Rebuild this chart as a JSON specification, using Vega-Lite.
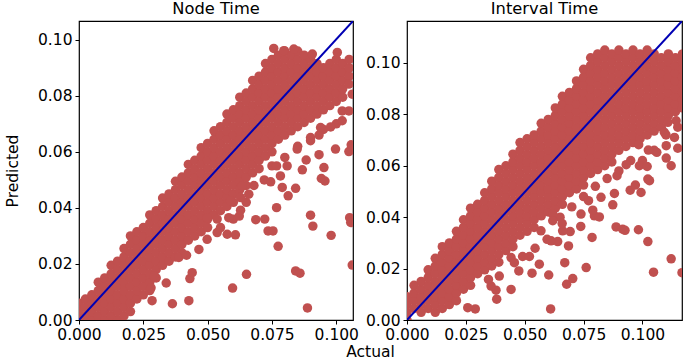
{"$schema":"https://vega.github.io/schema/vega-lite/v6.json","background":"white","padding":{"left":4,"top":0,"right":3,"bottom":0},"bounds":"flush","spacing":54,"config":{"font":"DejaVu Sans","view":{"stroke":"#000","strokeWidth":1.2},"axis":{"grid":false,"domain":false,"ticks":true,"tickColor":"#000","tickSize":4,"tickWidth":1,"labelColor":"#000","titleColor":"#000","labelFontSize":15.5,"titleFontSize":15.5,"titleFontWeight":"normal","labelBound":false,"labelFlush":false,"labelOverlap":false,"labelPadding":3},"title":{"fontSize":16.3,"fontWeight":"normal","color":"#000","offset":4}},"hconcat":[{"width":274,"height":299,"title":"Node Time","layer":[{"data":{"values":[
{"a":0,"p":0},{"a":0,"p":0.003},{"a":0,"p":0.006},
{"a":0.0025,"p":0.0015},{"a":0.0025,"p":0.0045},{"a":0.0025,"p":0.0075},
{"a":0.005,"p":0},{"a":0.005,"p":0.003},{"a":0.005,"p":0.006},{"a":0.005,"p":0.009},
{"a":0.0075,"p":0.0015},{"a":0.0075,"p":0.0045},{"a":0.0075,"p":0.0075},{"a":0.0075,"p":0.0105},{"a":0.0075,"p":0.0135},
{"a":0.01,"p":0},{"a":0.01,"p":0.003},{"a":0.01,"p":0.006},{"a":0.01,"p":0.009},{"a":0.01,"p":0.012},{"a":0.01,"p":0.015},
{"a":0.0125,"p":0.0015},{"a":0.0125,"p":0.0045},{"a":0.0125,"p":0.0075},{"a":0.0125,"p":0.0105},{"a":0.0125,"p":0.0135},{"a":0.0125,"p":0.0165},{"a":0.0125,"p":0.0195},
{"a":0.015,"p":0},{"a":0.015,"p":0.003},{"a":0.015,"p":0.006},{"a":0.015,"p":0.009},{"a":0.015,"p":0.012},{"a":0.015,"p":0.015},{"a":0.015,"p":0.018},{"a":0.015,"p":0.021},
{"a":0.0175,"p":0.0015},{"a":0.0175,"p":0.0045},{"a":0.0175,"p":0.0075},{"a":0.0175,"p":0.0105},{"a":0.0175,"p":0.0135},{"a":0.0175,"p":0.0165},{"a":0.0175,"p":0.0195},{"a":0.0175,"p":0.0225},{"a":0.0175,"p":0.0255},
{"a":0.02,"p":0.003},{"a":0.02,"p":0.006},{"a":0.02,"p":0.009},{"a":0.02,"p":0.012},{"a":0.02,"p":0.015},{"a":0.02,"p":0.018},{"a":0.02,"p":0.021},{"a":0.02,"p":0.024},{"a":0.02,"p":0.027},{"a":0.02,"p":0.03},
{"a":0.0225,"p":0.0075},{"a":0.0225,"p":0.0105},{"a":0.0225,"p":0.0135},{"a":0.0225,"p":0.0165},{"a":0.0225,"p":0.0195},{"a":0.0225,"p":0.0225},{"a":0.0225,"p":0.0255},{"a":0.0225,"p":0.0285},{"a":0.0225,"p":0.0315},
{"a":0.025,"p":0.009},{"a":0.025,"p":0.012},{"a":0.025,"p":0.015},{"a":0.025,"p":0.018},{"a":0.025,"p":0.021},{"a":0.025,"p":0.024},{"a":0.025,"p":0.027},{"a":0.025,"p":0.03},{"a":0.025,"p":0.033},
{"a":0.0275,"p":0.0105},{"a":0.0275,"p":0.0135},{"a":0.0275,"p":0.0165},{"a":0.0275,"p":0.0195},{"a":0.0275,"p":0.0225},{"a":0.0275,"p":0.0255},{"a":0.0275,"p":0.0285},{"a":0.0275,"p":0.0315},{"a":0.0275,"p":0.0345},{"a":0.0275,"p":0.0375},
{"a":0.03,"p":0.015},{"a":0.03,"p":0.018},{"a":0.03,"p":0.021},{"a":0.03,"p":0.024},{"a":0.03,"p":0.027},{"a":0.03,"p":0.03},{"a":0.03,"p":0.033},{"a":0.03,"p":0.036},{"a":0.03,"p":0.039},
{"a":0.0325,"p":0.0195},{"a":0.0325,"p":0.0225},{"a":0.0325,"p":0.0255},{"a":0.0325,"p":0.0285},{"a":0.0325,"p":0.0315},{"a":0.0325,"p":0.0345},{"a":0.0325,"p":0.0375},{"a":0.0325,"p":0.0405},{"a":0.0325,"p":0.0435},
{"a":0.035,"p":0.021},{"a":0.035,"p":0.024},{"a":0.035,"p":0.027},{"a":0.035,"p":0.03},{"a":0.035,"p":0.033},{"a":0.035,"p":0.036},{"a":0.035,"p":0.039},{"a":0.035,"p":0.042},{"a":0.035,"p":0.045},
{"a":0.0375,"p":0.0225},{"a":0.0375,"p":0.0255},{"a":0.0375,"p":0.0285},{"a":0.0375,"p":0.0315},{"a":0.0375,"p":0.0345},{"a":0.0375,"p":0.0375},{"a":0.0375,"p":0.0405},{"a":0.0375,"p":0.0435},{"a":0.0375,"p":0.0465},{"a":0.0375,"p":0.0495},
{"a":0.04,"p":0.024},{"a":0.04,"p":0.027},{"a":0.04,"p":0.03},{"a":0.04,"p":0.033},{"a":0.04,"p":0.036},{"a":0.04,"p":0.039},{"a":0.04,"p":0.042},{"a":0.04,"p":0.045},{"a":0.04,"p":0.048},{"a":0.04,"p":0.051},
{"a":0.0425,"p":0.0285},{"a":0.0425,"p":0.0315},{"a":0.0425,"p":0.0345},{"a":0.0425,"p":0.0375},{"a":0.0425,"p":0.0405},{"a":0.0425,"p":0.0435},{"a":0.0425,"p":0.0465},{"a":0.0425,"p":0.0495},{"a":0.0425,"p":0.0525},{"a":0.0425,"p":0.0555},
{"a":0.045,"p":0.03},{"a":0.045,"p":0.033},{"a":0.045,"p":0.036},{"a":0.045,"p":0.039},{"a":0.045,"p":0.042},{"a":0.045,"p":0.045},{"a":0.045,"p":0.048},{"a":0.045,"p":0.051},{"a":0.045,"p":0.054},{"a":0.045,"p":0.057},
{"a":0.0475,"p":0.0315},{"a":0.0475,"p":0.0345},{"a":0.0475,"p":0.0375},{"a":0.0475,"p":0.0405},{"a":0.0475,"p":0.0435},{"a":0.0475,"p":0.0465},{"a":0.0475,"p":0.0495},{"a":0.0475,"p":0.0525},{"a":0.0475,"p":0.0555},{"a":0.0475,"p":0.0585},{"a":0.0475,"p":0.0615},
{"a":0.05,"p":0.033},{"a":0.05,"p":0.036},{"a":0.05,"p":0.039},{"a":0.05,"p":0.042},{"a":0.05,"p":0.045},{"a":0.05,"p":0.048},{"a":0.05,"p":0.051},{"a":0.05,"p":0.054},{"a":0.05,"p":0.057},{"a":0.05,"p":0.06},{"a":0.05,"p":0.063},
{"a":0.0525,"p":0.0375},{"a":0.0525,"p":0.0405},{"a":0.0525,"p":0.0435},{"a":0.0525,"p":0.0465},{"a":0.0525,"p":0.0495},{"a":0.0525,"p":0.0525},{"a":0.0525,"p":0.0555},{"a":0.0525,"p":0.0585},{"a":0.0525,"p":0.0615},{"a":0.0525,"p":0.0645},{"a":0.0525,"p":0.0675},
{"a":0.055,"p":0.039},{"a":0.055,"p":0.042},{"a":0.055,"p":0.045},{"a":0.055,"p":0.048},{"a":0.055,"p":0.051},{"a":0.055,"p":0.054},{"a":0.055,"p":0.057},{"a":0.055,"p":0.06},{"a":0.055,"p":0.063},{"a":0.055,"p":0.066},{"a":0.055,"p":0.069},
{"a":0.0575,"p":0.0405},{"a":0.0575,"p":0.0435},{"a":0.0575,"p":0.0465},{"a":0.0575,"p":0.0495},{"a":0.0575,"p":0.0525},{"a":0.0575,"p":0.0555},{"a":0.0575,"p":0.0585},{"a":0.0575,"p":0.0615},{"a":0.0575,"p":0.0645},{"a":0.0575,"p":0.0675},{"a":0.0575,"p":0.0705},{"a":0.0575,"p":0.0735},
{"a":0.06,"p":0.042},{"a":0.06,"p":0.045},{"a":0.06,"p":0.048},{"a":0.06,"p":0.051},{"a":0.06,"p":0.054},{"a":0.06,"p":0.057},{"a":0.06,"p":0.06},{"a":0.06,"p":0.063},{"a":0.06,"p":0.066},{"a":0.06,"p":0.069},{"a":0.06,"p":0.072},{"a":0.06,"p":0.075},
{"a":0.0625,"p":0.0465},{"a":0.0625,"p":0.0495},{"a":0.0625,"p":0.0525},{"a":0.0625,"p":0.0555},{"a":0.0625,"p":0.0585},{"a":0.0625,"p":0.0615},{"a":0.0625,"p":0.0645},{"a":0.0625,"p":0.0675},{"a":0.0625,"p":0.0705},{"a":0.0625,"p":0.0735},{"a":0.0625,"p":0.0765},{"a":0.0625,"p":0.0795},
{"a":0.065,"p":0.048},{"a":0.065,"p":0.051},{"a":0.065,"p":0.054},{"a":0.065,"p":0.057},{"a":0.065,"p":0.06},{"a":0.065,"p":0.063},{"a":0.065,"p":0.066},{"a":0.065,"p":0.069},{"a":0.065,"p":0.072},{"a":0.065,"p":0.075},{"a":0.065,"p":0.078},{"a":0.065,"p":0.081},
{"a":0.0675,"p":0.0525},{"a":0.0675,"p":0.0555},{"a":0.0675,"p":0.0585},{"a":0.0675,"p":0.0615},{"a":0.0675,"p":0.0645},{"a":0.0675,"p":0.0675},{"a":0.0675,"p":0.0705},{"a":0.0675,"p":0.0735},{"a":0.0675,"p":0.0765},{"a":0.0675,"p":0.0795},{"a":0.0675,"p":0.0825},{"a":0.0675,"p":0.0855},
{"a":0.07,"p":0.054},{"a":0.07,"p":0.057},{"a":0.07,"p":0.06},{"a":0.07,"p":0.063},{"a":0.07,"p":0.066},{"a":0.07,"p":0.069},{"a":0.07,"p":0.072},{"a":0.07,"p":0.075},{"a":0.07,"p":0.078},{"a":0.07,"p":0.081},{"a":0.07,"p":0.084},{"a":0.07,"p":0.087},
{"a":0.0725,"p":0.0585},{"a":0.0725,"p":0.0615},{"a":0.0725,"p":0.0645},{"a":0.0725,"p":0.0675},{"a":0.0725,"p":0.0705},{"a":0.0725,"p":0.0735},{"a":0.0725,"p":0.0765},{"a":0.0725,"p":0.0795},{"a":0.0725,"p":0.0825},{"a":0.0725,"p":0.0855},{"a":0.0725,"p":0.0885},{"a":0.0725,"p":0.0915},
{"a":0.075,"p":0.06},{"a":0.075,"p":0.063},{"a":0.075,"p":0.066},{"a":0.075,"p":0.069},{"a":0.075,"p":0.072},{"a":0.075,"p":0.075},{"a":0.075,"p":0.078},{"a":0.075,"p":0.081},{"a":0.075,"p":0.084},{"a":0.075,"p":0.087},{"a":0.075,"p":0.09},{"a":0.075,"p":0.093},
{"a":0.0775,"p":0.0645},{"a":0.0775,"p":0.0675},{"a":0.0775,"p":0.0705},{"a":0.0775,"p":0.0735},{"a":0.0775,"p":0.0765},{"a":0.0775,"p":0.0795},{"a":0.0775,"p":0.0825},{"a":0.0775,"p":0.0855},{"a":0.0775,"p":0.0885},{"a":0.0775,"p":0.0915},{"a":0.0775,"p":0.0945},
{"a":0.08,"p":0.066},{"a":0.08,"p":0.069},{"a":0.08,"p":0.072},{"a":0.08,"p":0.075},{"a":0.08,"p":0.078},{"a":0.08,"p":0.081},{"a":0.08,"p":0.084},{"a":0.08,"p":0.087},{"a":0.08,"p":0.09},{"a":0.08,"p":0.093},{"a":0.08,"p":0.096},
{"a":0.0825,"p":0.0675},{"a":0.0825,"p":0.0705},{"a":0.0825,"p":0.0735},{"a":0.0825,"p":0.0765},{"a":0.0825,"p":0.0795},{"a":0.0825,"p":0.0825},{"a":0.0825,"p":0.0855},{"a":0.0825,"p":0.0885},{"a":0.0825,"p":0.0915},{"a":0.0825,"p":0.0945},
{"a":0.085,"p":0.069},{"a":0.085,"p":0.072},{"a":0.085,"p":0.075},{"a":0.085,"p":0.078},{"a":0.085,"p":0.081},{"a":0.085,"p":0.084},{"a":0.085,"p":0.087},{"a":0.085,"p":0.09},{"a":0.085,"p":0.093},{"a":0.085,"p":0.096},
{"a":0.0875,"p":0.0705},{"a":0.0875,"p":0.0735},{"a":0.0875,"p":0.0765},{"a":0.0875,"p":0.0795},{"a":0.0875,"p":0.0825},{"a":0.0875,"p":0.0855},{"a":0.0875,"p":0.0885},{"a":0.0875,"p":0.0915},{"a":0.0875,"p":0.0945},
{"a":0.09,"p":0.072},{"a":0.09,"p":0.075},{"a":0.09,"p":0.078},{"a":0.09,"p":0.081},{"a":0.09,"p":0.084},{"a":0.09,"p":0.087},{"a":0.09,"p":0.09},{"a":0.09,"p":0.093},
{"a":0.0925,"p":0.0735},{"a":0.0925,"p":0.0765},{"a":0.0925,"p":0.0795},{"a":0.0925,"p":0.0825},{"a":0.0925,"p":0.0855},{"a":0.0925,"p":0.0885},{"a":0.0925,"p":0.0915},
{"a":0.095,"p":0.075},{"a":0.095,"p":0.078},{"a":0.095,"p":0.081},{"a":0.095,"p":0.084},{"a":0.095,"p":0.087},{"a":0.095,"p":0.09},
{"a":0.0975,"p":0.0765},{"a":0.0975,"p":0.0795},{"a":0.0975,"p":0.0825},{"a":0.0975,"p":0.0855},{"a":0.0975,"p":0.0885},{"a":0.0975,"p":0.0915},
{"a":0.1,"p":0.078},{"a":0.1,"p":0.081},{"a":0.1,"p":0.084},{"a":0.1,"p":0.087},{"a":0.1,"p":0.09},{"a":0.1,"p":0.093},
{"a":0.1025,"p":0.0795},{"a":0.1025,"p":0.0825},{"a":0.1025,"p":0.0855},{"a":0.1025,"p":0.0885},{"a":0.1025,"p":0.0915},
{"a":0.105,"p":0.087},{"a":0.105,"p":0.09},{"a":0.105,"p":0.093},
{"a":0.068,"p":0.048},{"a":0.072,"p":0.05},{"a":0.08,"p":0.058},{"a":0.085,"p":0.062},{"a":0.09,"p":0.064},{"a":0.095,"p":0.068},{"a":0.1,"p":0.07},{"a":0.075,"p":0.055},{"a":0.055,"p":0.033},{"a":0.06,"p":0.036},{"a":0.065,"p":0.042},
{"a":0.1062,"p":0.0196},{"a":0.0888,"p":0.0043},{"a":0.0842,"p":0.0175},{"a":0.0859,"p":0.0167},{"a":0.0651,"p":0.0163},{"a":0.0597,"p":0.0114},{"a":0.0427,"p":0.0069},{"a":0.0363,"p":0.0058},{"a":0.0284,"p":0.0069},{"a":0.028,"p":0.0115},{"a":0.0339,"p":0.0132},{"a":0.0431,"p":0.0148},{"a":0.044,"p":0.0169},{"a":0.0774,"p":0.0263},{"a":0.098,"p":0.0302},{"a":0.0909,"p":0.0335},{"a":0.09,"p":0.0374},{"a":0.1052,"p":0.0365},{"a":0.1056,"p":0.0348},{"a":0.0768,"p":0.0401},{"a":0.0687,"p":0.0358},{"a":0.0722,"p":0.036},{"a":0.0735,"p":0.0318},{"a":0.0754,"p":0.0318},{"a":0.0608,"p":0.0304},{"a":0.0576,"p":0.0306},{"a":0.0537,"p":0.0312},{"a":0.0623,"p":0.0371},{"a":0.0628,"p":0.0392},{"a":0.0582,"p":0.0365},{"a":0.0466,"p":0.0252},{"a":0.0388,"p":0.0223},{"a":0.0418,"p":0.0231},{"a":0.079,"p":0.0473},{"a":0.0842,"p":0.047},{"a":0.0813,"p":0.0443},{"a":0.0745,"p":0.0493},{"a":0.0783,"p":0.0514},{"a":0.0768,"p":0.055},{"a":0.0809,"p":0.055},{"a":0.0868,"p":0.0536},{"a":0.0883,"p":0.0571},{"a":0.0933,"p":0.059},{"a":0.0952,"p":0.0544},{"a":0.0942,"p":0.0505},{"a":0.0956,"p":0.0496},{"a":0.0848,"p":0.061},{"a":0.0997,"p":0.061},{"a":0.1049,"p":0.0601},{"a":0.1058,"p":0.0625},{"a":0.1023,"p":0.0711},{"a":0.0933,"p":0.066},{"a":0.09,"p":0.0651},{"a":0.0978,"p":0.0689},{"a":0.0939,"p":0.0687},{"a":0.1023,"p":0.0746},{"a":0.1049,"p":0.0746},{"a":0.1062,"p":0.0806},{"a":0.1049,"p":0.0842},{"a":0.1004,"p":0.0955},{"a":0.0907,"p":0.0949},{"a":0.0757,"p":0.0969},{"a":0.0796,"p":0.0961},{"a":0.0835,"p":0.0967},{"a":0.0634,"p":0.0479},{"a":0.066,"p":0.0449},{"a":0.0628,"p":0.0437},{"a":0.0589,"p":0.0425},{"a":0.0537,"p":0.036},{"a":0.0498,"p":0.0365},{"a":0.0498,"p":0.0288},{"a":0.0291,"p":0.0157}
]},"mark":{"type":"point","filled":true,"shape":"circle","size":90,"color":"#c0504f","opacity":1,"clip":true},"encoding":{"x":{"field":"a","type":"quantitative","scale":{"domain":[0,0.1065],"nice":false},"axis":{"title":null,"values":[0,0.025,0.05,0.075,0.1],"format":".3f"}},"y":{"field":"p","type":"quantitative","scale":{"domain":[0,0.1067],"nice":false},"axis":{"title":"Predicted","values":[0,0.02,0.04,0.06,0.08,0.1],"format":".2f","titlePadding":17}}}},
{"data":{"values":[{"a":0,"p":0},{"a":0.1065,"p":0.1067}]},"mark":{"type":"line","color":"#0000b4","strokeWidth":2,"clip":true},"encoding":{"x":{"field":"a","type":"quantitative","scale":{"domain":[0,0.1065],"nice":false}},"y":{"field":"p","type":"quantitative","scale":{"domain":[0,0.1067],"nice":false}}}}]},
{"width":275,"height":299,"title":"Interval Time","layer":[{"data":{"values":[
{"a":0,"p":0},{"a":0,"p":0.003},{"a":0,"p":0.006},{"a":0,"p":0.009},
{"a":0.003,"p":0.0045},{"a":0.003,"p":0.0075},{"a":0.003,"p":0.0105},{"a":0.003,"p":0.0135},
{"a":0.006,"p":0.003},{"a":0.006,"p":0.006},{"a":0.006,"p":0.009},{"a":0.006,"p":0.012},{"a":0.006,"p":0.015},
{"a":0.009,"p":0.0045},{"a":0.009,"p":0.0075},{"a":0.009,"p":0.0105},{"a":0.009,"p":0.0135},{"a":0.009,"p":0.0165},{"a":0.009,"p":0.0195},
{"a":0.012,"p":0.003},{"a":0.012,"p":0.006},{"a":0.012,"p":0.009},{"a":0.012,"p":0.012},{"a":0.012,"p":0.015},{"a":0.012,"p":0.018},{"a":0.012,"p":0.021},{"a":0.012,"p":0.024},
{"a":0.015,"p":0.0045},{"a":0.015,"p":0.0075},{"a":0.015,"p":0.0105},{"a":0.015,"p":0.0135},{"a":0.015,"p":0.0165},{"a":0.015,"p":0.0195},{"a":0.015,"p":0.0225},{"a":0.015,"p":0.0255},{"a":0.015,"p":0.0285},
{"a":0.018,"p":0.006},{"a":0.018,"p":0.009},{"a":0.018,"p":0.012},{"a":0.018,"p":0.015},{"a":0.018,"p":0.018},{"a":0.018,"p":0.021},{"a":0.018,"p":0.024},{"a":0.018,"p":0.027},{"a":0.018,"p":0.03},
{"a":0.021,"p":0.0075},{"a":0.021,"p":0.0105},{"a":0.021,"p":0.0135},{"a":0.021,"p":0.0165},{"a":0.021,"p":0.0195},{"a":0.021,"p":0.0225},{"a":0.021,"p":0.0255},{"a":0.021,"p":0.0285},{"a":0.021,"p":0.0315},{"a":0.021,"p":0.0345},
{"a":0.024,"p":0.012},{"a":0.024,"p":0.015},{"a":0.024,"p":0.018},{"a":0.024,"p":0.021},{"a":0.024,"p":0.024},{"a":0.024,"p":0.027},{"a":0.024,"p":0.03},{"a":0.024,"p":0.033},{"a":0.024,"p":0.036},{"a":0.024,"p":0.039},
{"a":0.027,"p":0.0135},{"a":0.027,"p":0.0165},{"a":0.027,"p":0.0195},{"a":0.027,"p":0.0225},{"a":0.027,"p":0.0255},{"a":0.027,"p":0.0285},{"a":0.027,"p":0.0315},{"a":0.027,"p":0.0345},{"a":0.027,"p":0.0375},{"a":0.027,"p":0.0405},{"a":0.027,"p":0.0435},
{"a":0.03,"p":0.018},{"a":0.03,"p":0.021},{"a":0.03,"p":0.024},{"a":0.03,"p":0.027},{"a":0.03,"p":0.03},{"a":0.03,"p":0.033},{"a":0.03,"p":0.036},{"a":0.03,"p":0.039},{"a":0.03,"p":0.042},{"a":0.03,"p":0.045},
{"a":0.033,"p":0.0195},{"a":0.033,"p":0.0225},{"a":0.033,"p":0.0255},{"a":0.033,"p":0.0285},{"a":0.033,"p":0.0315},{"a":0.033,"p":0.0345},{"a":0.033,"p":0.0375},{"a":0.033,"p":0.0405},{"a":0.033,"p":0.0435},{"a":0.033,"p":0.0465},{"a":0.033,"p":0.0495},
{"a":0.036,"p":0.021},{"a":0.036,"p":0.024},{"a":0.036,"p":0.027},{"a":0.036,"p":0.03},{"a":0.036,"p":0.033},{"a":0.036,"p":0.036},{"a":0.036,"p":0.039},{"a":0.036,"p":0.042},{"a":0.036,"p":0.045},{"a":0.036,"p":0.048},{"a":0.036,"p":0.051},{"a":0.036,"p":0.054},
{"a":0.039,"p":0.0225},{"a":0.039,"p":0.0255},{"a":0.039,"p":0.0285},{"a":0.039,"p":0.0315},{"a":0.039,"p":0.0345},{"a":0.039,"p":0.0375},{"a":0.039,"p":0.0405},{"a":0.039,"p":0.0435},{"a":0.039,"p":0.0465},{"a":0.039,"p":0.0495},{"a":0.039,"p":0.0525},{"a":0.039,"p":0.0555},{"a":0.039,"p":0.0585},
{"a":0.042,"p":0.027},{"a":0.042,"p":0.03},{"a":0.042,"p":0.033},{"a":0.042,"p":0.036},{"a":0.042,"p":0.039},{"a":0.042,"p":0.042},{"a":0.042,"p":0.045},{"a":0.042,"p":0.048},{"a":0.042,"p":0.051},{"a":0.042,"p":0.054},{"a":0.042,"p":0.057},{"a":0.042,"p":0.06},
{"a":0.045,"p":0.0285},{"a":0.045,"p":0.0315},{"a":0.045,"p":0.0345},{"a":0.045,"p":0.0375},{"a":0.045,"p":0.0405},{"a":0.045,"p":0.0435},{"a":0.045,"p":0.0465},{"a":0.045,"p":0.0495},{"a":0.045,"p":0.0525},{"a":0.045,"p":0.0555},{"a":0.045,"p":0.0585},{"a":0.045,"p":0.0615},{"a":0.045,"p":0.0645},
{"a":0.048,"p":0.033},{"a":0.048,"p":0.036},{"a":0.048,"p":0.039},{"a":0.048,"p":0.042},{"a":0.048,"p":0.045},{"a":0.048,"p":0.048},{"a":0.048,"p":0.051},{"a":0.048,"p":0.054},{"a":0.048,"p":0.057},{"a":0.048,"p":0.06},{"a":0.048,"p":0.063},{"a":0.048,"p":0.066},{"a":0.048,"p":0.069},
{"a":0.051,"p":0.0345},{"a":0.051,"p":0.0375},{"a":0.051,"p":0.0405},{"a":0.051,"p":0.0435},{"a":0.051,"p":0.0465},{"a":0.051,"p":0.0495},{"a":0.051,"p":0.0525},{"a":0.051,"p":0.0555},{"a":0.051,"p":0.0585},{"a":0.051,"p":0.0615},{"a":0.051,"p":0.0645},{"a":0.051,"p":0.0675},{"a":0.051,"p":0.0705},
{"a":0.054,"p":0.036},{"a":0.054,"p":0.039},{"a":0.054,"p":0.042},{"a":0.054,"p":0.045},{"a":0.054,"p":0.048},{"a":0.054,"p":0.051},{"a":0.054,"p":0.054},{"a":0.054,"p":0.057},{"a":0.054,"p":0.06},{"a":0.054,"p":0.063},{"a":0.054,"p":0.066},{"a":0.054,"p":0.069},{"a":0.054,"p":0.072},
{"a":0.057,"p":0.0405},{"a":0.057,"p":0.0435},{"a":0.057,"p":0.0465},{"a":0.057,"p":0.0495},{"a":0.057,"p":0.0525},{"a":0.057,"p":0.0555},{"a":0.057,"p":0.0585},{"a":0.057,"p":0.0615},{"a":0.057,"p":0.0645},{"a":0.057,"p":0.0675},{"a":0.057,"p":0.0705},{"a":0.057,"p":0.0735},{"a":0.057,"p":0.0765},
{"a":0.06,"p":0.042},{"a":0.06,"p":0.045},{"a":0.06,"p":0.048},{"a":0.06,"p":0.051},{"a":0.06,"p":0.054},{"a":0.06,"p":0.057},{"a":0.06,"p":0.06},{"a":0.06,"p":0.063},{"a":0.06,"p":0.066},{"a":0.06,"p":0.069},{"a":0.06,"p":0.072},{"a":0.06,"p":0.075},{"a":0.06,"p":0.078},
{"a":0.063,"p":0.0435},{"a":0.063,"p":0.0465},{"a":0.063,"p":0.0495},{"a":0.063,"p":0.0525},{"a":0.063,"p":0.0555},{"a":0.063,"p":0.0585},{"a":0.063,"p":0.0615},{"a":0.063,"p":0.0645},{"a":0.063,"p":0.0675},{"a":0.063,"p":0.0705},{"a":0.063,"p":0.0735},{"a":0.063,"p":0.0765},{"a":0.063,"p":0.0795},{"a":0.063,"p":0.0825},
{"a":0.066,"p":0.045},{"a":0.066,"p":0.048},{"a":0.066,"p":0.051},{"a":0.066,"p":0.054},{"a":0.066,"p":0.057},{"a":0.066,"p":0.06},{"a":0.066,"p":0.063},{"a":0.066,"p":0.066},{"a":0.066,"p":0.069},{"a":0.066,"p":0.072},{"a":0.066,"p":0.075},{"a":0.066,"p":0.078},{"a":0.066,"p":0.081},{"a":0.066,"p":0.084},{"a":0.066,"p":0.087},
{"a":0.069,"p":0.0495},{"a":0.069,"p":0.0525},{"a":0.069,"p":0.0555},{"a":0.069,"p":0.0585},{"a":0.069,"p":0.0615},{"a":0.069,"p":0.0645},{"a":0.069,"p":0.0675},{"a":0.069,"p":0.0705},{"a":0.069,"p":0.0735},{"a":0.069,"p":0.0765},{"a":0.069,"p":0.0795},{"a":0.069,"p":0.0825},{"a":0.069,"p":0.0855},{"a":0.069,"p":0.0885},
{"a":0.072,"p":0.051},{"a":0.072,"p":0.054},{"a":0.072,"p":0.057},{"a":0.072,"p":0.06},{"a":0.072,"p":0.063},{"a":0.072,"p":0.066},{"a":0.072,"p":0.069},{"a":0.072,"p":0.072},{"a":0.072,"p":0.075},{"a":0.072,"p":0.078},{"a":0.072,"p":0.081},{"a":0.072,"p":0.084},{"a":0.072,"p":0.087},{"a":0.072,"p":0.09},{"a":0.072,"p":0.093},
{"a":0.075,"p":0.0525},{"a":0.075,"p":0.0555},{"a":0.075,"p":0.0585},{"a":0.075,"p":0.0615},{"a":0.075,"p":0.0645},{"a":0.075,"p":0.0675},{"a":0.075,"p":0.0705},{"a":0.075,"p":0.0735},{"a":0.075,"p":0.0765},{"a":0.075,"p":0.0795},{"a":0.075,"p":0.0825},{"a":0.075,"p":0.0855},{"a":0.075,"p":0.0885},{"a":0.075,"p":0.0915},{"a":0.075,"p":0.0945},{"a":0.075,"p":0.0975},
{"a":0.078,"p":0.057},{"a":0.078,"p":0.06},{"a":0.078,"p":0.063},{"a":0.078,"p":0.066},{"a":0.078,"p":0.069},{"a":0.078,"p":0.072},{"a":0.078,"p":0.075},{"a":0.078,"p":0.078},{"a":0.078,"p":0.081},{"a":0.078,"p":0.084},{"a":0.078,"p":0.087},{"a":0.078,"p":0.09},{"a":0.078,"p":0.093},{"a":0.078,"p":0.096},{"a":0.078,"p":0.099},{"a":0.078,"p":0.102},
{"a":0.081,"p":0.0585},{"a":0.081,"p":0.0615},{"a":0.081,"p":0.0645},{"a":0.081,"p":0.0675},{"a":0.081,"p":0.0705},{"a":0.081,"p":0.0735},{"a":0.081,"p":0.0765},{"a":0.081,"p":0.0795},{"a":0.081,"p":0.0825},{"a":0.081,"p":0.0855},{"a":0.081,"p":0.0885},{"a":0.081,"p":0.0915},{"a":0.081,"p":0.0945},{"a":0.081,"p":0.0975},{"a":0.081,"p":0.1005},{"a":0.081,"p":0.1035},
{"a":0.084,"p":0.06},{"a":0.084,"p":0.063},{"a":0.084,"p":0.066},{"a":0.084,"p":0.069},{"a":0.084,"p":0.072},{"a":0.084,"p":0.075},{"a":0.084,"p":0.078},{"a":0.084,"p":0.081},{"a":0.084,"p":0.084},{"a":0.084,"p":0.087},{"a":0.084,"p":0.09},{"a":0.084,"p":0.093},{"a":0.084,"p":0.096},{"a":0.084,"p":0.099},{"a":0.084,"p":0.102},{"a":0.084,"p":0.105},
{"a":0.087,"p":0.0615},{"a":0.087,"p":0.0645},{"a":0.087,"p":0.0675},{"a":0.087,"p":0.0705},{"a":0.087,"p":0.0735},{"a":0.087,"p":0.0765},{"a":0.087,"p":0.0795},{"a":0.087,"p":0.0825},{"a":0.087,"p":0.0855},{"a":0.087,"p":0.0885},{"a":0.087,"p":0.0915},{"a":0.087,"p":0.0945},{"a":0.087,"p":0.0975},{"a":0.087,"p":0.1005},{"a":0.087,"p":0.1035},
{"a":0.09,"p":0.066},{"a":0.09,"p":0.069},{"a":0.09,"p":0.072},{"a":0.09,"p":0.075},{"a":0.09,"p":0.078},{"a":0.09,"p":0.081},{"a":0.09,"p":0.084},{"a":0.09,"p":0.087},{"a":0.09,"p":0.09},{"a":0.09,"p":0.093},{"a":0.09,"p":0.096},{"a":0.09,"p":0.099},{"a":0.09,"p":0.102},{"a":0.09,"p":0.105},
{"a":0.093,"p":0.0675},{"a":0.093,"p":0.0705},{"a":0.093,"p":0.0735},{"a":0.093,"p":0.0765},{"a":0.093,"p":0.0795},{"a":0.093,"p":0.0825},{"a":0.093,"p":0.0855},{"a":0.093,"p":0.0885},{"a":0.093,"p":0.0915},{"a":0.093,"p":0.0945},{"a":0.093,"p":0.0975},{"a":0.093,"p":0.1005},{"a":0.093,"p":0.1035},
{"a":0.096,"p":0.069},{"a":0.096,"p":0.072},{"a":0.096,"p":0.075},{"a":0.096,"p":0.078},{"a":0.096,"p":0.081},{"a":0.096,"p":0.084},{"a":0.096,"p":0.087},{"a":0.096,"p":0.09},{"a":0.096,"p":0.093},{"a":0.096,"p":0.096},{"a":0.096,"p":0.099},{"a":0.096,"p":0.102},{"a":0.096,"p":0.105},
{"a":0.099,"p":0.0705},{"a":0.099,"p":0.0735},{"a":0.099,"p":0.0765},{"a":0.099,"p":0.0795},{"a":0.099,"p":0.0825},{"a":0.099,"p":0.0855},{"a":0.099,"p":0.0885},{"a":0.099,"p":0.0915},{"a":0.099,"p":0.0945},{"a":0.099,"p":0.0975},{"a":0.099,"p":0.1005},{"a":0.099,"p":0.1035},
{"a":0.102,"p":0.072},{"a":0.102,"p":0.075},{"a":0.102,"p":0.078},{"a":0.102,"p":0.081},{"a":0.102,"p":0.084},{"a":0.102,"p":0.087},{"a":0.102,"p":0.09},{"a":0.102,"p":0.093},{"a":0.102,"p":0.096},{"a":0.102,"p":0.099},{"a":0.102,"p":0.102},{"a":0.102,"p":0.105},
{"a":0.105,"p":0.0735},{"a":0.105,"p":0.0765},{"a":0.105,"p":0.0795},{"a":0.105,"p":0.0825},{"a":0.105,"p":0.0855},{"a":0.105,"p":0.0885},{"a":0.105,"p":0.0915},{"a":0.105,"p":0.0945},{"a":0.105,"p":0.0975},{"a":0.105,"p":0.1005},{"a":0.105,"p":0.1035},
{"a":0.108,"p":0.075},{"a":0.108,"p":0.078},{"a":0.108,"p":0.081},{"a":0.108,"p":0.084},{"a":0.108,"p":0.087},{"a":0.108,"p":0.09},{"a":0.108,"p":0.093},{"a":0.108,"p":0.096},{"a":0.108,"p":0.099},{"a":0.108,"p":0.102},
{"a":0.111,"p":0.0795},{"a":0.111,"p":0.0825},{"a":0.111,"p":0.0855},{"a":0.111,"p":0.0885},{"a":0.111,"p":0.0915},{"a":0.111,"p":0.0945},{"a":0.111,"p":0.0975},{"a":0.111,"p":0.1005},{"a":0.111,"p":0.1035},
{"a":0.114,"p":0.081},{"a":0.114,"p":0.084},{"a":0.114,"p":0.087},{"a":0.114,"p":0.09},{"a":0.114,"p":0.093},{"a":0.114,"p":0.096},{"a":0.114,"p":0.099},{"a":0.114,"p":0.102},
{"a":0.117,"p":0.0825},{"a":0.117,"p":0.0855},{"a":0.117,"p":0.0885},{"a":0.117,"p":0.0915},{"a":0.117,"p":0.0945},{"a":0.117,"p":0.0975},{"a":0.117,"p":0.1005},{"a":0.117,"p":0.1035},
{"a":0.1,"p":0.062},{"a":0.105,"p":0.066},{"a":0.09,"p":0.058},{"a":0.095,"p":0.062},{"a":0.085,"p":0.055},{"a":0.08,"p":0.052},{"a":0.11,"p":0.072},{"a":0.115,"p":0.075},{"a":0.075,"p":0.048},{"a":0.07,"p":0.044},{"a":0.065,"p":0.04},
{"a":0.061,"p":0.0043},{"a":0.029,"p":0.0043},{"a":0.0258,"p":0.0048},{"a":0.0381,"p":0.0081},{"a":0.0442,"p":0.0119},{"a":0.0378,"p":0.0116},{"a":0.0357,"p":0.0132},{"a":0.0346,"p":0.0158},{"a":0.0392,"p":0.0171},{"a":0.0475,"p":0.0191},{"a":0.0531,"p":0.0182},{"a":0.0602,"p":0.0175},{"a":0.0678,"p":0.0139},{"a":0.0704,"p":0.0161},{"a":0.0761,"p":0.0204},{"a":0.067,"p":0.0223},{"a":0.0562,"p":0.0217},{"a":0.0491,"p":0.0247},{"a":0.052,"p":0.0247},{"a":0.0442,"p":0.0243},{"a":0.0456,"p":0.0223},{"a":0.0544,"p":0.0279},{"a":0.0686,"p":0.0288},{"a":0.0595,"p":0.0314},{"a":0.064,"p":0.0305},{"a":0.0612,"p":0.0308},{"a":0.0786,"p":0.0321},{"a":0.0738,"p":0.0364},{"a":0.0693,"p":0.0344},{"a":0.0661,"p":0.0347},{"a":0.0659,"p":0.0375},{"a":0.0739,"p":0.0412},{"a":0.0796,"p":0.0405},{"a":0.0817,"p":0.0401},{"a":0.0789,"p":0.0427},{"a":0.0888,"p":0.0362},{"a":0.0916,"p":0.0353},{"a":0.0926,"p":0.0349},{"a":0.0983,"p":0.0351},{"a":0.1023,"p":0.0305},{"a":0.1122,"p":0.0238},{"a":0.1047,"p":0.0186},{"a":0.1168,"p":0.0184},{"a":0.0874,"p":0.0448},{"a":0.0771,"p":0.0464},{"a":0.0824,"p":0.0477},{"a":0.0881,"p":0.0492},{"a":0.0948,"p":0.0505},{"a":0.097,"p":0.0525},{"a":0.0994,"p":0.0496},{"a":0.1023,"p":0.0548},{"a":0.103,"p":0.0542},{"a":0.0987,"p":0.06},{"a":0.102,"p":0.0597},{"a":0.1122,"p":0.06},{"a":0.1101,"p":0.063},{"a":0.1061,"p":0.0652},{"a":0.1025,"p":0.0661},{"a":0.1101,"p":0.0678},{"a":0.115,"p":0.0668},{"a":0.0984,"p":0.0682},{"a":0.1093,"p":0.073},{"a":0.1136,"p":0.071},{"a":0.1108,"p":0.0769},{"a":0.1143,"p":0.0775},{"a":0.0892,"p":0.0561},{"a":0.0931,"p":0.0604},{"a":0.0619,"p":0.0412},{"a":0.0619,"p":0.0386},{"a":0.0569,"p":0.0347}
]},"mark":{"type":"point","filled":true,"shape":"circle","size":90,"color":"#c0504f","opacity":1,"clip":true},"encoding":{"x":{"field":"a","type":"quantitative","scale":{"domain":[0,0.1168],"nice":false},"axis":{"title":"Actual","titleX":-37,"titleY":24,"values":[0,0.025,0.05,0.075,0.1],"format":".3f"}},"y":{"field":"p","type":"quantitative","scale":{"domain":[0,0.1163],"nice":false},"axis":{"title":null,"values":[0,0.02,0.04,0.06,0.08,0.1],"format":".2f"}}}},
{"data":{"values":[{"a":0,"p":0},{"a":0.1168,"p":0.1163}]},"mark":{"type":"line","color":"#0000b4","strokeWidth":2,"clip":true},"encoding":{"x":{"field":"a","type":"quantitative","scale":{"domain":[0,0.1168],"nice":false}},"y":{"field":"p","type":"quantitative","scale":{"domain":[0,0.1163],"nice":false}}}}]}],"resolve":{"scale":{"x":"independent","y":"independent"}}}
